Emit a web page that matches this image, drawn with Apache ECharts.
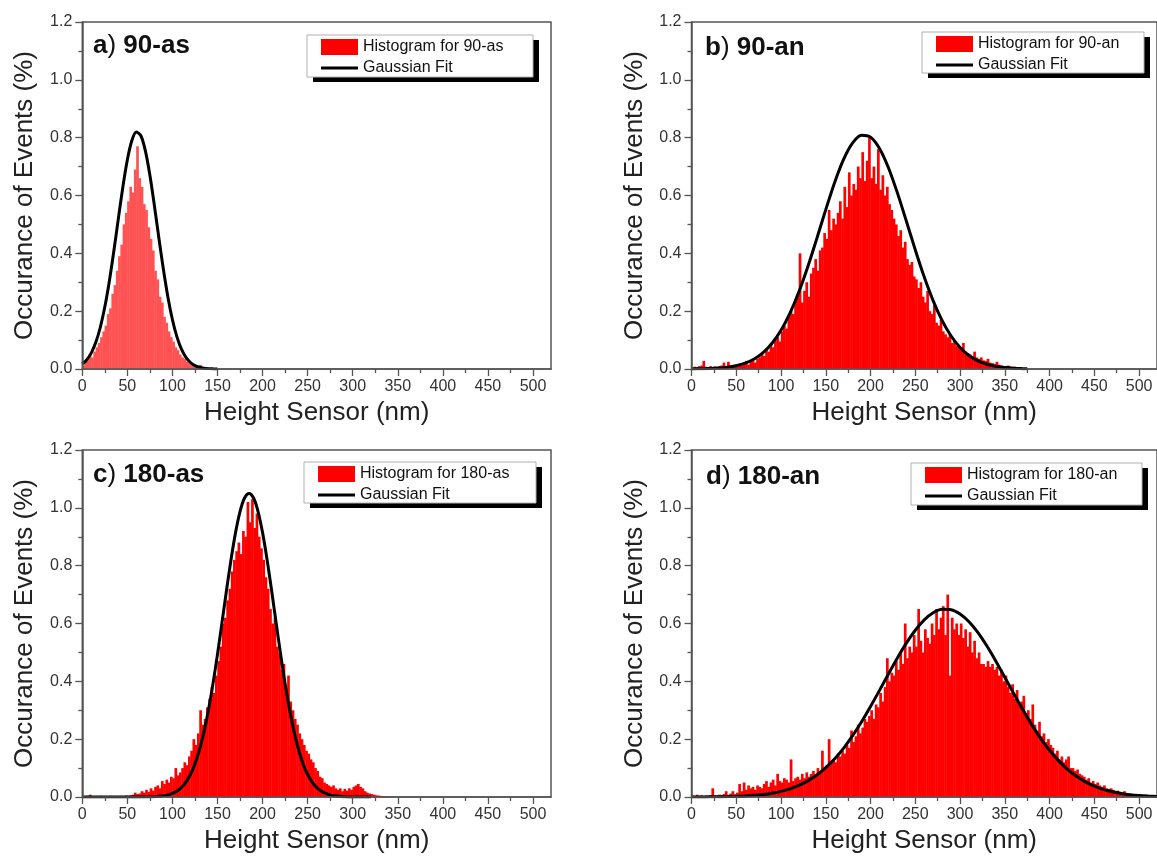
<!DOCTYPE html>
<html><head><meta charset="utf-8">
<script src="https://cdn.jsdelivr.net/npm/echarts@6/dist/echarts.min.js"></script>
<style>html,body{margin:0;padding:0;background:#fff}#c{width:1157px;height:856px}</style>
</head><body><div id="c"></div>
<script>
// ---------- data ----------
const BIN = 2.5;                       // histogram bin width (nm)
const X_TICKS = [0,50,100,150,200,250,300,350,400,450,500];
const X_MINOR = [25,75,125,175,225,275,325,375,425,475];
const X_MAX = 520;
const Y_MAX = 1.2;

const panelLabels = ['a', 'b', 'c', 'd'];
const sampleNames = ['90-as', '90-an', '180-as', '180-an'];

// Histogram heights, one value per 2.5 nm bin starting at 0 nm
const histA = [
  0.012,0.025,0.03,0.045,0.04,0.06,0.075,0.09,0.11,0.13,
  0.15,0.19,0.21,0.26,0.29,0.34,0.39,0.43,0.50,0.54,
  0.58,0.63,0.61,0.69,0.77,0.66,0.63,0.57,0.55,0.49,
  0.45,0.41,0.34,0.31,0.25,0.23,0.18,0.16,0.13,0.11,
  0.095,0.075,0.065,0.05,0.04,0.035,0.025,0.02,0.015,0.012,
  0.01,0.008,0.014,0.006,0.004,0.003,0.002,0.001
];
const histB = [
  0.005,0.008,0.006,0.01,0.012,0.028,0.008,0.006,0.01,0.007,
  0.009,0.006,0.01,0.012,0.022,0.008,0.025,0.012,0.01,0.015,
  0.013,0.018,0.012,0.02,0.028,0.015,0.025,0.03,0.022,0.035,
  0.04,0.055,0.045,0.07,0.06,0.085,0.075,0.1,0.11,0.095,
  0.13,0.15,0.14,0.18,0.2,0.19,0.24,0.26,0.4,0.23,
  0.27,0.3,0.25,0.33,0.35,0.38,0.34,0.41,0.42,0.47,
  0.45,0.55,0.48,0.52,0.5,0.54,0.58,0.52,0.63,0.56,
  0.68,0.6,0.64,0.62,0.7,0.66,0.75,0.65,0.72,0.8,
  0.66,0.7,0.64,0.76,0.62,0.67,0.6,0.63,0.57,0.55,
  0.52,0.5,0.46,0.48,0.42,0.44,0.38,0.36,0.37,0.32,
  0.31,0.28,0.3,0.25,0.23,0.27,0.2,0.19,0.22,0.16,
  0.15,0.17,0.13,0.12,0.11,0.12,0.09,0.1,0.08,0.075,
  0.07,0.09,0.06,0.055,0.05,0.045,0.06,0.04,0.035,0.04,
  0.03,0.028,0.035,0.022,0.02,0.018,0.025,0.015,0.012,0.01,
  0.01,0.012,0.008,0.006,0.008,0.005,0.004,0.003,0.002,0.001
];
const histC = [
  0.003,0.002,0.004,0.008,0.003,0.002,0.003,0.002,0.004,0.003,
  0.002,0.003,0.004,0.002,0.003,0.002,0.003,0.004,0.003,0.005,
  0.004,0.006,0.008,0.015,0.01,0.012,0.02,0.015,0.025,0.018,
  0.03,0.022,0.035,0.04,0.03,0.055,0.045,0.06,0.05,0.07,
  0.065,0.1,0.075,0.085,0.1,0.12,0.11,0.14,0.16,0.2,
  0.18,0.22,0.3,0.25,0.27,0.31,0.34,0.38,0.36,0.42,
  0.47,0.52,0.6,0.62,0.68,0.72,0.78,0.82,0.85,0.88,
  0.84,0.92,0.9,1.02,0.95,1.03,0.93,0.98,0.9,0.86,
  0.82,0.76,0.72,0.65,0.6,0.62,0.52,0.5,0.44,0.46,
  0.38,0.42,0.33,0.3,0.27,0.25,0.22,0.2,0.18,0.16,
  0.15,0.13,0.12,0.1,0.09,0.07,0.065,0.05,0.045,0.04,
  0.035,0.04,0.03,0.025,0.03,0.02,0.028,0.022,0.03,0.025,
  0.035,0.04,0.045,0.035,0.03,0.02,0.015,0.012,0.01,0.008,
  0.006,0.005,0.004,0.003,0.002,0.001
];
const histD = [
  0.005,0.003,0.008,0.004,0.006,0.003,0.005,0.004,0.006,0.03,
  0.005,0.004,0.008,0.006,0.01,0.02,0.008,0.012,0.02,0.01,
  0.015,0.045,0.02,0.05,0.025,0.04,0.03,0.035,0.025,0.04,
  0.035,0.03,0.045,0.055,0.035,0.05,0.06,0.04,0.08,0.055,
  0.05,0.065,0.06,0.05,0.13,0.055,0.065,0.07,0.06,0.08,
  0.065,0.085,0.07,0.08,0.09,0.075,0.1,0.085,0.16,0.1,
  0.11,0.2,0.12,0.13,0.12,0.15,0.14,0.16,0.15,0.18,
  0.17,0.23,0.19,0.21,0.25,0.22,0.24,0.27,0.26,0.28,
  0.3,0.27,0.32,0.31,0.36,0.33,0.38,0.48,0.4,0.43,
  0.42,0.47,0.44,0.5,0.46,0.6,0.48,0.52,0.5,0.56,
  0.52,0.65,0.54,0.5,0.58,0.55,0.53,0.6,0.56,0.65,
  0.58,0.62,0.66,0.56,0.7,0.42,0.62,0.58,0.6,0.56,
  0.6,0.55,0.58,0.52,0.57,0.5,0.54,0.48,0.5,0.46,
  0.46,0.45,0.47,0.45,0.46,0.44,0.45,0.42,0.44,0.4,
  0.42,0.38,0.36,0.39,0.34,0.37,0.32,0.33,0.35,0.29,
  0.3,0.27,0.32,0.25,0.23,0.26,0.21,0.22,0.19,0.2,
  0.18,0.17,0.15,0.16,0.13,0.14,0.12,0.13,0.14,0.1,
  0.1,0.09,0.095,0.08,0.075,0.07,0.06,0.065,0.05,0.055,
  0.045,0.05,0.04,0.035,0.04,0.03,0.028,0.03,0.025,0.02,
  0.022,0.018,0.015,0.02,0.012,0.01,0.008,0.006,0.004,0.003
];

// Gaussian fit curves (x in nm, y in %)
const fitAx = [0,5,10,15,20,25,30,35,40,45,50,55,60,65,70,75,80,85,90,95,100,105,110,115,120,125,130,135,140,145,150];
const fitAy = [0.0175,0.0321,0.0559,0.0922,0.1444,0.2150,0.3038,0.4079,0.5200,0.6294,0.7237,0.7900,0.8192,0.8066,0.7542,0.6697,0.5647,0.4523,0.3440,0.2485,0.1704,0.1110,0.0687,0.0403,0.0225,0.0119,0.0060,0.0029,0.0013,0.0006,0.0002];
const fitBx = [0,10,20,30,40,50,60,70,80,90,100,110,120,130,140,150,160,170,180,190,200,210,220,230,240,250,260,270,280,290,300,310,320,330,340,350,360,370,375];
const fitBy = [0.0003,0.0008,0.0016,0.0032,0.0062,0.0115,0.0203,0.0347,0.0567,0.0890,0.1337,0.1930,0.2671,0.3545,0.4513,0.5511,0.6457,0.7255,0.7820,0.8085,0.8018,0.7627,0.6960,0.6090,0.5114,0.4118,0.3181,0.2356,0.1675,0.1141,0.0747,0.0468,0.0282,0.0163,0.0090,0.0048,0.0024,0.0012,0.0008];
const fitCx = [0,40,80,85,90,95,100,105,110,115,120,125,130,135,140,145,150,155,160,165,170,175,180,185,190,195,200,205,210,215,220,225,230,235,240,245,250,255,260,265,270,275,280,285,290,300,320];
const fitCy = [0,0,0.0012,0.0022,0.0041,0.0072,0.0123,0.0204,0.0329,0.0515,0.0779,0.1145,0.1631,0.2253,0.3019,0.3921,0.4940,0.6034,0.7147,0.8208,0.9142,0.9873,1.0340,1.0500,1.0340,0.9873,0.9142,0.8208,0.7147,0.6034,0.4940,0.3921,0.3019,0.2253,0.1631,0.1145,0.0779,0.0515,0.0329,0.0204,0.0123,0.0072,0.0041,0.0022,0.0012,0.0003,0];
const fitDx = [0,10,20,30,40,50,60,70,80,90,100,110,120,130,140,150,160,170,180,190,200,210,220,230,240,250,260,270,280,290,300,310,320,330,340,350,360,370,380,390,400,410,420,430,440,450,460,470,480,490,500,510,520];
const fitDy = [0.0002,0.0003,0.0005,0.0008,0.0014,0.0022,0.0036,0.0057,0.0087,0.0132,0.0195,0.0283,0.0402,0.0558,0.0760,0.1013,0.1323,0.1693,0.2122,0.2604,0.3131,0.3687,0.4254,0.4807,0.5320,0.5767,0.6124,0.6369,0.6489,0.6476,0.6330,0.6061,0.5684,0.5221,0.4698,0.4141,0.3575,0.3023,0.2504,0.2031,0.1615,0.1257,0.0958,0.0716,0.0523,0.0375,0.0263,0.0181,0.0122,0.0080,0.0052,0.0033,0.0020];

const hists = [histA, histB, histC, histD];
const fitXs = [fitAx, fitBx, fitCx, fitDx];
const fitYs = [fitAy, fitBy, fitCy, fitDy];

// ---------- layout / style ----------
const FONT = 'Liberation Sans, Arial, Helvetica, sans-serif';
const GRID_W = 468.7, GRID_H = 347;
const layout = [
  {left: 82.3,  top: 22,  boxL: 307, boxT: 35,  boxW: 226, boxH: 42, titL: 93,  titT: 32},
  {left: 691.5, top: 22,  boxL: 922, boxT: 32,  boxW: 222, boxH: 41, titL: 705, titT: 34},
  {left: 82.3,  top: 450, boxL: 304, boxT: 462, boxW: 232, boxH: 41, titL: 93,  titT: 461},
  {left: 691.5, top: 450, boxL: 911, boxT: 463, boxW: 231, boxH: 42, titL: 706, titT: 463}
];
const histColors = ['#ff5252', '#ff0000', '#ff0000', '#ff0000'];
const AXIS_COLOR = '#555';
const barW = BIN / X_MAX * GRID_W + 0.45;

const grid = [], xAxis = [], yAxis = [], series = [], legend = [], title = [], graphic = [];
layout.forEach((L, i) => {
  grid.push({left: L.left, top: L.top, width: GRID_W, height: GRID_H, show: true,
    borderColor: AXIS_COLOR, borderWidth: 1.5, backgroundColor: 'transparent', containLabel: false});
  const axLine = {show: true, onZero: false, lineStyle: {color: AXIS_COLOR, width: 1.5}};
  xAxis.push({type: 'value', gridIndex: i, min: 0, max: X_MAX, position: 'bottom', z: 5,
    axisLine: axLine,
    axisTick: {show: true, length: 7, customValues: X_TICKS, lineStyle: {color: AXIS_COLOR, width: 1.3}},
    axisLabel: {customValues: X_TICKS, fontSize: 16, color: '#333', margin: 10, fontFamily: FONT},
    splitLine: {show: false},
    name: 'Height Sensor (nm)', nameLocation: 'middle', nameGap: 31,
    nameTextStyle: {fontSize: 26, color: '#222', fontFamily: FONT}});
  xAxis.push({type: 'value', gridIndex: i, min: 0, max: X_MAX, position: 'bottom', z: 5,
    axisLine: {show: false},
    axisTick: {show: true, length: 4, customValues: X_MINOR, lineStyle: {color: AXIS_COLOR, width: 1.3}},
    axisLabel: {show: false}, splitLine: {show: false}});
  yAxis.push({type: 'value', gridIndex: i, min: 0, max: Y_MAX, interval: 0.2, z: 5,
    axisLine: axLine,
    axisTick: {show: true, length: 7, lineStyle: {color: AXIS_COLOR, width: 1.3}},
    minorTick: {show: true, splitNumber: 2, length: 4, lineStyle: {color: AXIS_COLOR, width: 1.3}},
    axisLabel: {fontSize: 16, color: '#333', margin: 10, fontFamily: FONT, formatter: v => v.toFixed(1)},
    splitLine: {show: false}, minorSplitLine: {show: false},
    name: 'Occurance of Events (%)', nameLocation: 'middle', nameGap: 44,
    nameTextStyle: {fontSize: 26, color: '#222', fontFamily: FONT}});

  const histName = 'Histogram for ' + sampleNames[i];
  series.push({type: 'bar', name: histName, xAxisIndex: 2 * i, yAxisIndex: i,
    data: hists[i].map((v, k) => [BIN * (k + 0.5), v]),
    barWidth: barW, itemStyle: {color: histColors[i]}, z: 2, animation: false});
  series.push({type: 'line', name: 'Gaussian Fit', xAxisIndex: 2 * i, yAxisIndex: i,
    data: fitXs[i].map((x, k) => [x, fitYs[i][k]]),
    showSymbol: false, symbol: 'none', smooth: 0.3,
    lineStyle: {color: '#000', width: 3}, itemStyle: {color: '#000'}, z: 4, animation: false});

  // legend frame with the solid black drop shadow
  graphic.push({type: 'rect', z: 10, silent: true,
    shape: {x: L.boxL + 6, y: L.boxT + 5, width: L.boxW, height: L.boxH}, style: {fill: '#000'}});
  graphic.push({type: 'rect', z: 11, silent: true,
    shape: {x: L.boxL, y: L.boxT, width: L.boxW, height: L.boxH}, style: {fill: '#fff', stroke: '#b0b0b0', lineWidth: 1}});

  legend.push({left: L.boxL, top: L.boxT, orient: 'vertical', selectedMode: false, z: 20,
    data: [
      {name: histName, icon: 'rect', itemStyle: {color: '#ff0000', borderWidth: 0}},
      {name: 'Gaussian Fit', icon: 'path://M0,0H37V3H0Z', itemStyle: {color: '#000', borderWidth: 0}}
    ],
    itemWidth: 37, itemHeight: 16, itemGap: 5, padding: [4, 0, 0, 14],
    backgroundColor: 'transparent', borderWidth: 0,
    itemStyle: {borderWidth: 0},
    textStyle: {fontSize: 16, color: '#111', fontFamily: FONT, lineHeight: 16}});

  title.push({left: L.titL, top: L.titT, padding: 0,
    text: '{b|' + panelLabels[i] + '}{p|)}{b| ' + sampleNames[i] + '}',
    textStyle: {rich: {
      b: {fontSize: 26, fontWeight: 'bold', color: '#111', fontFamily: FONT, lineHeight: 27},
      p: {fontSize: 26, fontWeight: 'normal', color: '#111', fontFamily: FONT, lineHeight: 27}
    }}});
});

const chart = echarts.init(document.getElementById('c'), null, {renderer: 'canvas'});
chart.setOption({
  backgroundColor: '#fff', animation: false,
  textStyle: {fontFamily: FONT},
  grid, xAxis, yAxis, series, legend, title, graphic
});
</script></body></html>
